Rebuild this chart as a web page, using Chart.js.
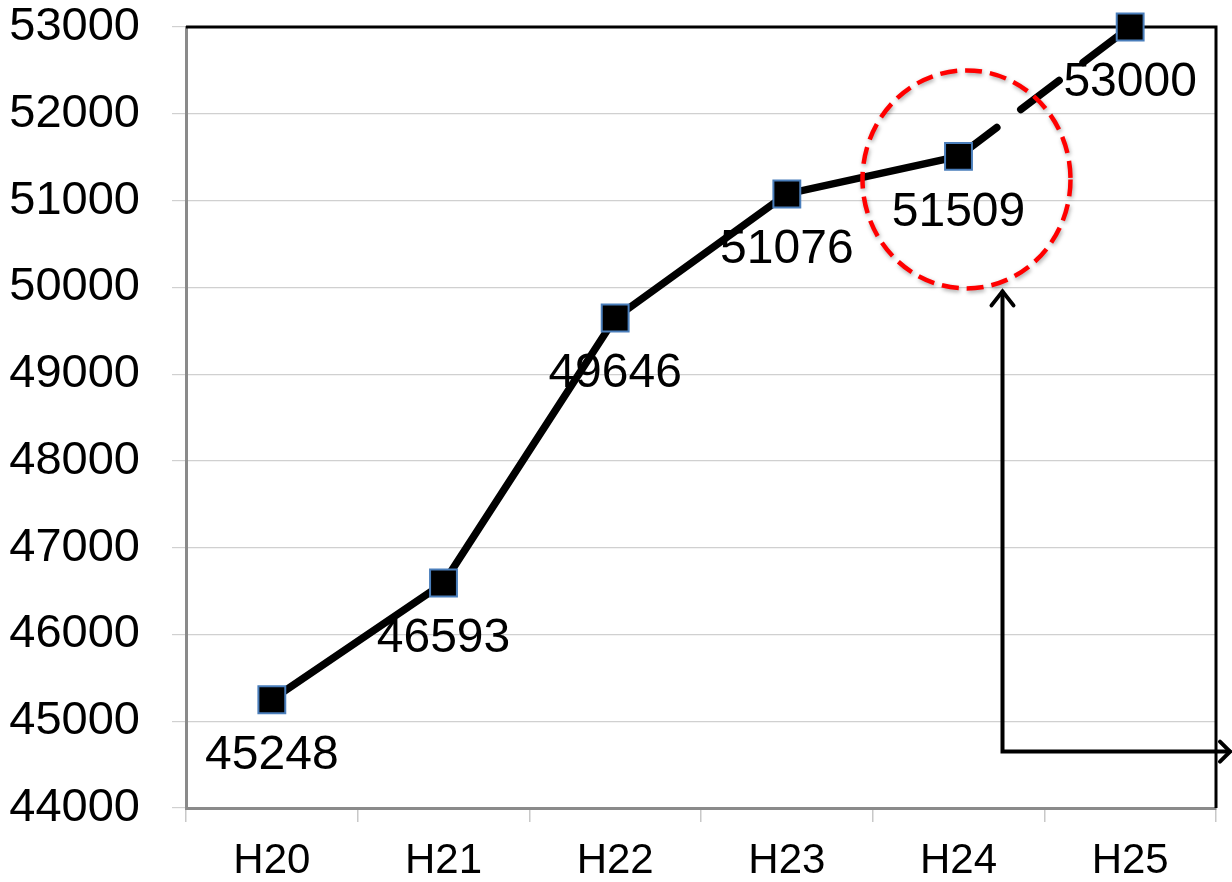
<!DOCTYPE html>
<html>
<head>
<meta charset="utf-8">
<script src="https://cdn.jsdelivr.net/npm/chart.js@4"></script>
<style>
html,body{margin:0;padding:0;background:#fff;}
#wrap{width:1232px;height:882px;position:relative;}
</style>
</head>
<body>
<div id="wrap"><canvas id="c" width="1232" height="882"></canvas></div>
<script>
const categories = ['H20','H21','H22','H23','H24','H25'];
const values = [45248, 46593, 49646, 51076, 51509, 53000];
const yTicks = [44000,45000,46000,47000,48000,49000,50000,51000,52000,53000];
const dashedFromIndex = 4;
const highlightIndex = 4;

const FONT = '"Liberation Sans", Arial, sans-serif';

const overlay = {
  id: 'overlay',
  beforeDatasetsDraw(chart) {
    const ctx = chart.ctx, a = chart.chartArea;
    const xs = chart.scales.x, ys = chart.scales.y;
    ctx.save();
    ctx.strokeStyle = '#000'; ctx.lineWidth = 3; ctx.lineCap = 'butt';
    ctx.beginPath();
    ctx.moveTo(a.left, a.top); ctx.lineTo(a.right, a.top); ctx.lineTo(a.right, a.bottom);
    ctx.stroke();
    ctx.fillStyle = '#000';
    ctx.font = '48px ' + FONT;
    ctx.textAlign = 'center'; ctx.textBaseline = 'middle';
    values.forEach((v, i) => {
      const x = xs.getPixelForValue(i), y = ys.getPixelForValue(v);
      ctx.fillText(String(v), x, y + 56);
    });
    ctx.restore();
  },
  afterDatasetsDraw(chart) {
    const ctx = chart.ctx;
    const xs = chart.scales.x, ys = chart.scales.y;
    const hx = xs.getPixelForValue(highlightIndex), hy = ys.getPixelForValue(values[highlightIndex]);
    ctx.save();
    const cx = hx + 8, cy = hy + 23;
    ctx.shadowColor = 'rgba(0,0,0,0.35)'; ctx.shadowBlur = 4; ctx.shadowOffsetX = 1; ctx.shadowOffsetY = 2;
    ctx.strokeStyle = '#ff0000'; ctx.lineWidth = 4.5; ctx.setLineDash([17, 8]);
    ctx.beginPath(); ctx.ellipse(cx, cy, 104, 109, 0, 0, Math.PI * 2); ctx.stroke();
    ctx.restore();
    ctx.save();
    ctx.strokeStyle = '#000'; ctx.lineWidth = 4; ctx.lineCap = 'round'; ctx.lineJoin = 'miter';
    const ax = cx + 36, topY = cy + 110, turnY = ys.getPixelForValue(44650), endX = chart.width - 2;
    ctx.beginPath();
    ctx.moveTo(ax, topY + 2); ctx.lineTo(ax, turnY); ctx.lineTo(endX, turnY);
    ctx.stroke();
    ctx.beginPath();
    ctx.moveTo(ax - 11, topY + 16); ctx.lineTo(ax, topY + 2); ctx.lineTo(ax + 11, topY + 16);
    ctx.stroke();
    ctx.beginPath();
    ctx.moveTo(endX - 10, turnY - 10); ctx.lineTo(endX, turnY); ctx.lineTo(endX - 10, turnY + 10);
    ctx.stroke();
    ctx.restore();
  }
};

new Chart(document.getElementById('c'), {
  type: 'line',
  data: {
    labels: categories,
    datasets: [{
      data: values,
      borderColor: '#000',
      borderWidth: 7.5,
      borderCapStyle: 'round',
      tension: 0,
      pointStyle: 'rect',
      pointRadius: 19,
      pointHoverRadius: 19,
      pointBackgroundColor: '#000',
      pointBorderColor: '#4a7ebb',
      pointBorderWidth: 2,
      clip: false,
      segment: {
        borderDash: ctx => ctx.p0DataIndex >= dashedFromIndex ? [48, 30] : undefined
      }
    }]
  },
  options: {
    responsive: false,
    animation: false,
    devicePixelRatio: 1,
    layout: { autoPadding: false, padding: { top: 27, right: 16, left: 0, bottom: 0 } },
    plugins: { legend: { display: false }, tooltip: { enabled: false } },
    scales: {
      x: {
        offset: true,
        grid: { offset: true, drawOnChartArea: false, drawTicks: true, tickLength: 14, color: '#c8c8c8', lineWidth: 1.5 },
        border: { color: '#8a8a8a', width: 3 },
        ticks: { color: '#000', font: { family: FONT, size: 42 }, padding: 14, maxRotation: 0 },
        afterFit(s) { s.height = 74; s.paddingLeft = 0; s.paddingRight = 0; }
      },
      y: {
        min: 44000, max: 53000,
        afterBuildTicks(s) { s.ticks = yTicks.map(v => ({ value: v })); },
        grid: { color: '#d0d0d0', lineWidth: 1.2, drawTicks: true, tickLength: 14 },
        border: { color: '#8a8a8a', width: 3 },
        ticks: { color: '#000', font: { family: FONT, size: 47 }, padding: 32, callback: v => String(v) },
        afterFit(s) { s.width = 186; s.paddingTop = 0; s.paddingBottom = 0; }
      }
    }
  },
  plugins: [overlay]
});
</script>
</body>
</html>
